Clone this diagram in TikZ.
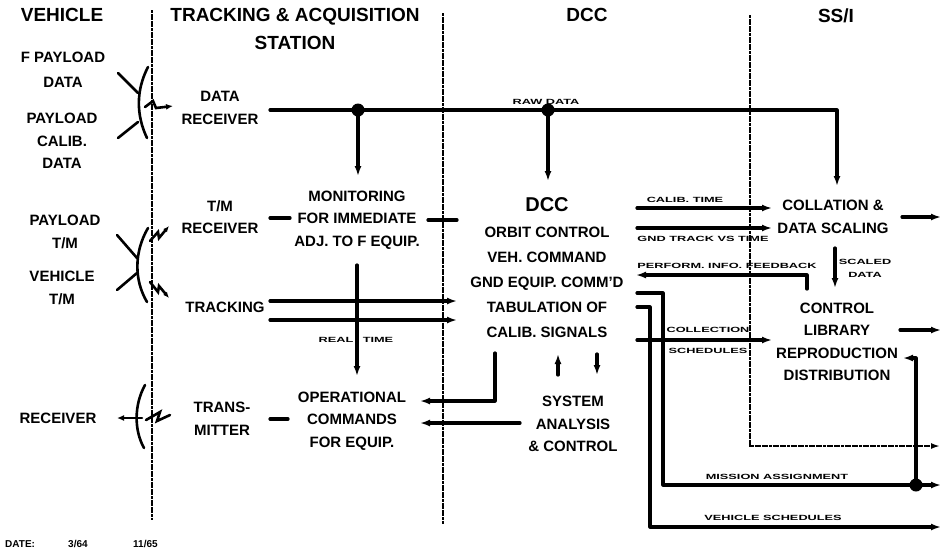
\documentclass[tikz,border=0pt]{standalone}
\usepackage{fontspec}
\setmainfont{Liberation Sans}
\usetikzlibrary{arrows.meta}
\newcommand\lbl[1]{\scalebox{1.7}[1]{#1}}
\begin{document}
\begin{tikzpicture}[x=1pt,y=-1pt,
  hdr/.style={font=\fontsize{19}{28}\selectfont\bfseries, align=center, inner sep=0pt},
  txt/.style={font=\fontsize{15}{22.5}\selectfont\bfseries, align=center, inner sep=0pt},
  dcctxt/.style={font=\fontsize{15}{25}\selectfont\bfseries, align=center, inner sep=0pt},
  lab/.style={font=\fontsize{7.5}{8}\selectfont\bfseries, inner sep=0pt},
  ln/.style={line width=3.2pt, line cap=round, line join=round},
  arr/.style={ln, -{Latex[length=10pt,width=7pt]}},
  div/.style={line width=2pt, dash pattern=on 3pt off 0.6pt},
  ant/.style={line width=2.6pt, line cap=round}]
\useasboundingbox (0,0) rectangle (945,550);
\fill[white] (0,0) rectangle (945,550);

% ---------- headers ----------
\node[hdr] (hveh) at (62,15) {VEHICLE};
\node[hdr] (htas) at (295,29) {TRACKING \& ACQUISITION\\STATION};
\node[hdr] (hdcc) at (587,15) {DCC};
\node[hdr] (hssi) at (836,16) {SS/I};

% ---------- dividers ----------
\coordinate (dv1t) at (152,10);  \coordinate (dv1b) at (152,520);
\coordinate (dv2t) at (443,13);  \coordinate (dv2b) at (443,524);
\coordinate (dv3t) at (750,15);  \coordinate (dv3c) at (750,446);
\coordinate (dv3e) at (940,446);
\draw[div] (dv1t) -- (dv1b);
\draw[div] (dv2t) -- (dv2b);
\draw[div, -{Latex[length=9pt,width=6pt]}] (dv3t) -- (dv3c) -- (dv3e);

% ---------- vehicle column ----------
\node[txt] (fpd) at (63,70) {F PAYLOAD\\[3pt]DATA};
\node[txt] (pcd) at (62,141) {PAYLOAD\\CALIB.\\DATA};
\node[txt] (ptm) at (65,232) {PAYLOAD\\T/M};
\node[txt] (vtm) at (62,288) {VEHICLE\\T/M};
\node[txt] (vrx) at (58,418) {RECEIVER};

% ---------- tracking column ----------
\node[txt] (drx) at (220,108) {DATA\\RECEIVER};
\node[txt] (tmrx) at (220,217) {T/M\\RECEIVER};
\node[txt] (trk) at (225,307) {TRACKING};
\node[txt] (tx) at (222,419) {TRANS-\\MITTER};
\node[txt] (mon) at (357,220) {MONITORING\\FOR IMMEDIATE\\ADJ. TO F EQUIP.};
\node[txt] (opc) at (352,421) {OPERATIONAL\\COMMANDS\\FOR EQUIP.};

% ---------- DCC column ----------
\node[font=\fontsize{20}{24}\selectfont\bfseries, inner sep=0pt] (dcc) at (547,205) {DCC};
\node[dcctxt] (dccb) at (547,282) {ORBIT CONTROL\\VEH. COMMAND\\GND EQUIP. COMM'D\\TABULATION OF\\CALIB. SIGNALS};
\node[txt] (sac) at (573,424) {SYSTEM\\ANALYSIS\\\& CONTROL};

% ---------- SS/I column ----------
\node[txt] (col) at (833,217) {COLLATION \&\\DATA SCALING};
\node[txt] (ctl) at (837,342) {CONTROL\\LIBRARY\\REPRODUCTION\\DISTRIBUTION};

% ---------- antenna symbols ----------
\draw[ant] (118,73) -- (138,93);
\draw[ant] (118,138) -- (138,122);
\draw[ant] (148,67) .. controls (136,90) and (136,115) .. (147,138);
\draw[ant, -{Latex[length=7pt,width=6pt]}] (145,107) -- (153,101) -- (156,108) -- (173,106);

\draw[ant] (117,235) -- (137,258);
\draw[ant] (117,290) -- (137,273);
\draw[ant] (148,228) .. controls (134,252) and (134,280) .. (147,302);
\draw[ant, -{Latex[length=6pt,width=5pt]}] (150,241) -- (158,232) -- (159,238) -- (169,226);
\draw[ant, -{Latex[length=6pt,width=5pt]}] (150,282) -- (158,292) -- (159,286) -- (169,298);

\draw[ant, -{Latex[length=7pt,width=6pt]}] (142,418) -- (117,418);
\draw[ant] (145,385) .. controls (134,405) and (134,430) .. (144,448);
\draw[ant] (146,420) -- (160,412) -- (157,421) -- (170,415);

% ---------- raw data ----------
\coordinate (rdA) at (270,110);
\coordinate (rdJ1) at (358,110);
\coordinate (rdJ2) at (548,110);
\coordinate (rdC) at (837,110);
\coordinate (rdE) at (837,186);
\coordinate (monIn) at (358,176);
\coordinate (dccIn) at (548,181);
\draw[arr] (rdA) -- (rdC) -- (rdE);
\draw[arr] (rdJ1) -- (monIn);
\draw[arr] (rdJ2) -- (dccIn);
\fill (rdJ1) circle (6.5);
\fill (rdJ2) circle (6.5);
\node[lab] (lraw) at (546,102) {\lbl{RAW DATA}};

% ---------- short links ----------
\coordinate (tmA) at (270,218); \coordinate (tmB) at (290,218);
\draw[ln] (tmA) -- (tmB);
\coordinate (mnA) at (428,220); \coordinate (mnB) at (457,220);
\draw[ln] (mnA) -- (mnB);
\coordinate (txA) at (270,419); \coordinate (txB) at (288,419);
\draw[ln] (txA) -- (txB);

% ---------- tracking to DCC ----------
\coordinate (tk1a) at (270,301); \coordinate (tk1b) at (457,301);
\coordinate (tk2a) at (270,320); \coordinate (tk2b) at (457,320);
\draw[arr] (tk1a) -- (tk1b);
\draw[arr] (tk2a) -- (tk2b);

% ---------- real time ----------
\coordinate (rtA) at (357,265); \coordinate (rtB) at (357,376);
\draw[arr] (rtA) -- (rtB);
\node[lab] (lreal) at (336,340) {\lbl{REAL}};
\node[lab] (ltime) at (378,340) {\lbl{TIME}};

% ---------- DCC to operational commands ----------
\coordinate (oc1a) at (495,353); \coordinate (oc1b) at (495,401); \coordinate (oc1c) at (420,401);
\draw[arr] (oc1a) -- (oc1b) -- (oc1c);
\coordinate (oc2a) at (520,423); \coordinate (oc2b) at (420,423);
\draw[arr] (oc2a) -- (oc2b);

% ---------- DCC <-> system analysis ----------
\coordinate (upA) at (558,375); \coordinate (upB) at (558,354);
\coordinate (dnA) at (597,354); \coordinate (dnB) at (597,375);
\draw[arr] (upA) -- (upB);
\draw[arr] (dnA) -- (dnB);

% ---------- DCC to SS/I ----------
\coordinate (ctA) at (637,208); \coordinate (ctB) at (772,208);
\draw[arr] (ctA) -- (ctB);
\node[lab] (lct) at (685,200) {\lbl{CALIB. TIME}};
\coordinate (gtA) at (637,228); \coordinate (gtB) at (772,228);
\draw[arr] (gtA) -- (gtB);
\node[lab] (lgt) at (703,239) {\lbl{GND TRACK VS TIME}};
\coordinate (fbA) at (807,289); \coordinate (fbB) at (807,275); \coordinate (fbC) at (636,275);
\draw[arr] (fbA) -- (fbB) -- (fbC);
\node[lab] (lfb) at (727,266) {\lbl{PERFORM. INFO. FEEDBACK}};

\coordinate (csA) at (637,340); \coordinate (csB) at (772,340);
\draw[arr] (csA) -- (csB);
\node[lab] (lcs1) at (708,330) {\lbl{COLLECTION}};
\node[lab] (lcs2) at (708,351) {\lbl{SCHEDULES}};

% ---------- SS/I internal ----------
\coordinate (sdA) at (835,248); \coordinate (sdB) at (835,288);
\draw[arr] (sdA) -- (sdB);
\node[lab] (lsd1) at (865,262) {\lbl{SCALED}};
\node[lab] (lsd2) at (865,275) {\lbl{DATA}};
\coordinate (coA) at (902,217); \coordinate (coB) at (941,217);
\draw[arr] (coA) -- (coB);
\coordinate (liA) at (900,330); \coordinate (liB) at (941,330);
\draw[arr] (liA) -- (liB);

% ---------- mission assignment / vehicle schedules ----------
\coordinate (maA) at (637,293); \coordinate (maB) at (663,293);
\coordinate (maC) at (663,485); \coordinate (maD) at (941,485);
\draw[arr] (maA) -- (maB) -- (maC) -- (maD);
\node[lab] (lma) at (777,477) {\lbl{MISSION ASSIGNMENT}};
\coordinate (vsA) at (637,307); \coordinate (vsB) at (650,307);
\coordinate (vsC) at (650,527); \coordinate (vsD) at (941,527);
\draw[arr] (vsA) -- (vsB) -- (vsC) -- (vsD);
\node[lab] (lvs) at (773,518) {\lbl{VEHICLE SCHEDULES}};

\coordinate (rpJ) at (916,485); \coordinate (rpB) at (916,358); \coordinate (rpC) at (903,358);
\draw[arr] (rpJ) -- (rpB) -- (rpC);
\fill (rpJ) circle (6.5);

% ---------- footer ----------
\node[font=\fontsize{10}{10}\selectfont\bfseries, anchor=base west, inner sep=0pt] (fdate) at (5,547) {DATE:};
\node[font=\fontsize{10}{10}\selectfont\bfseries, anchor=base west, inner sep=0pt] (fd1) at (68,547) {3/64};
\node[font=\fontsize{10}{10}\selectfont\bfseries, anchor=base west, inner sep=0pt] (fd2) at (133,547) {11/65};
\end{tikzpicture}
\end{document}
